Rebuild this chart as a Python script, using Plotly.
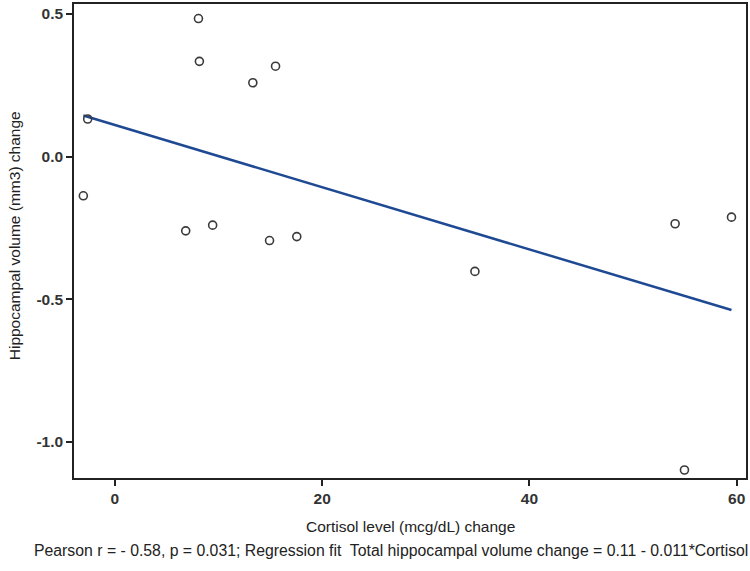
import plotly.graph_objects as go

cortisol_change = [-3.05, -2.63, 8.06, 8.15, 13.31, 15.50, 6.83, 9.43, 14.92, 17.55, 34.74, 54.06, 59.50, 54.96]
hippo_change = [-0.137, 0.132, 0.484, 0.334, 0.259, 0.317, -0.260, -0.240, -0.294, -0.280, -0.402, -0.235, -0.212, -1.098]

fit_intercept = 0.111
fit_slope = -0.0109

x_ticks = [0, 20, 40, 60]
y_ticks = [0.5, 0.0, -0.5, -1.0]
y_tick_labels = ["0.5", "0.0", "-0.5", "-1.0"]

x_title = "Cortisol level (mcg/dL) change"
y_title = "Hippocampal volume (mm3) change"
caption = "Pearson r = - 0.58, p = 0.031; Regression fit  Total hippocampal volume change = 0.11 - 0.011*Cortisol"

xmin, xmax = min(cortisol_change), max(cortisol_change)
fit_x = [xmin, xmax]
fit_y = [fit_intercept + fit_slope * v for v in fit_x]

fig = go.Figure()
fig.add_trace(go.Scatter(
    x=fit_x, y=fit_y, mode="lines",
    line=dict(color="#1f4a93", width=2.5),
    showlegend=False, hoverinfo="skip"))
fig.add_trace(go.Scatter(
    x=cortisol_change, y=hippo_change, mode="markers",
    marker=dict(symbol="circle-open", size=8, color="#3a3a3a", line=dict(width=1.6, color="#3a3a3a")),
    showlegend=False))

font_main = "Liberation Sans, Arial, sans-serif"

fig.update_layout(
    width=750, height=571,
    margin=dict(l=74, r=3, t=2, b=93),
    paper_bgcolor="white", plot_bgcolor="white",
    font=dict(family=font_main, size=15, color="#222222"),
    xaxis=dict(
        range=[-3.95, 60.9], tickvals=x_ticks,
        showline=True, linecolor="#222222", linewidth=1.5, mirror=True,
        ticks="outside", ticklen=6, tickwidth=1.5, tickcolor="#222222",
        showgrid=False, zeroline=False,
        tickfont=dict(family=font_main, size=15.5, color="#333333", weight="bold"),
    ),
    yaxis=dict(
        range=[-1.126, 0.535], tickvals=y_ticks, ticktext=y_tick_labels,
        showline=True, linecolor="#222222", linewidth=1.5, mirror=True,
        ticks="outside", ticklen=6, tickwidth=1.5, tickcolor="#222222",
        showgrid=False, zeroline=False,
        tickfont=dict(family=font_main, size=15.5, color="#333333", weight="bold"),
    ),
    annotations=[
        dict(text=x_title, xref="paper", yref="paper", x=0.5, y=-0.103,
             xanchor="center", yanchor="middle", showarrow=False,
             font=dict(family=font_main, size=15.5, color="#222222")),
        dict(text=y_title, xref="paper", yref="paper", x=0.0, y=0.51, xshift=-60,
             xanchor="center", yanchor="middle", showarrow=False, textangle=-90,
             font=dict(family=font_main, size=15.5, color="#222222")),
        dict(text=caption, xref="paper", yref="paper", x=0.0, y=-0.153, xshift=-42,
             xanchor="left", yanchor="middle", showarrow=False,
             font=dict(family=font_main, size=15.8, color="#222222")),
    ],
)

fig.write_html("out.html", config={"displayModeBar": False},
               post_script="document.body.style.margin='0px';document.body.style.overflow='hidden';")
